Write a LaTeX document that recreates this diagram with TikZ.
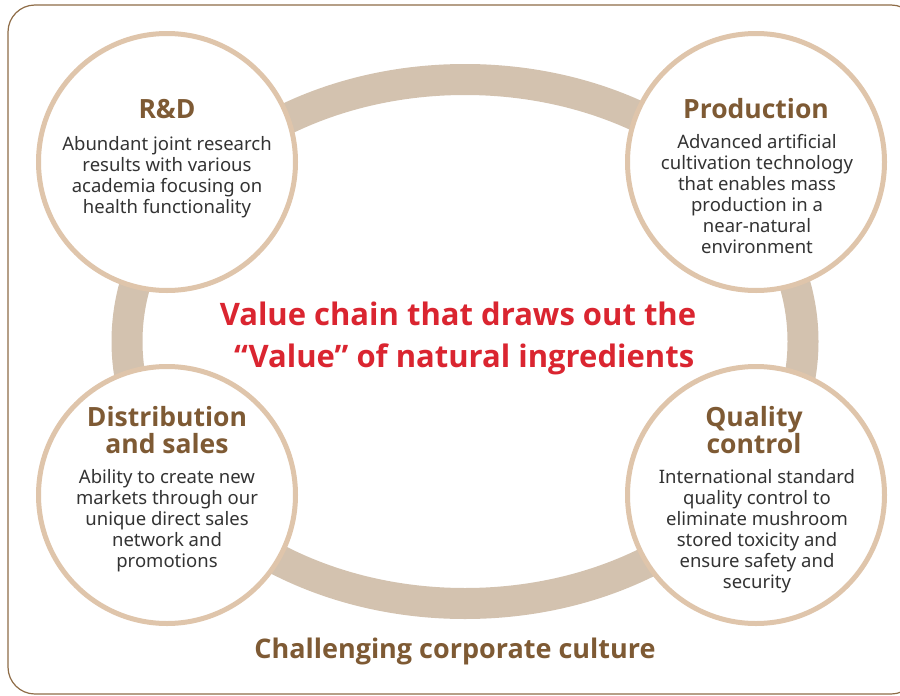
\documentclass[tikz,border=0pt]{standalone}
\usepackage{fontspec}
\setmainfont{Noto Sans}
\newfontfamily\headfont{Open Sans}
\usepackage{tikz}
\usetikzlibrary{positioning}

\definecolor{ringtan}{HTML}{D3C2AF}
\definecolor{rimtan}{HTML}{DFC5AB}
\definecolor{headbrown}{HTML}{7E5A34}
\definecolor{framebrown}{HTML}{8E6C47}
\definecolor{chainred}{HTML}{DA2530}
\definecolor{bodygray}{HTML}{333333}

\begin{document}
\begin{tikzpicture}[
    x=1pt, y=-1pt,
    stage/.style={draw=rimtan, line width=5pt, fill=white, circle, minimum size=257pt, inner sep=0pt},
    head/.style={text=headbrown, font=\headfont\fontsize{26.5}{27}\selectfont\bfseries, align=center, anchor=base, inner sep=0pt},
    body/.style={text=bodygray, font=\fontsize{18.5}{21}\selectfont, align=center, anchor=base, inner sep=0pt},
    ring/.style={draw=ringtan, line width=31pt}
]

    \useasboundingbox (0,0) rectangle (900,696);

    % Outer frame
    \draw[framebrown, line width=1.2pt, rounded corners=27pt] (8,5) rectangle (918,694);

    % Ring joining the four stages
    \draw[ring] (465,341.5) ellipse [x radius=338, y radius=262];

    % Stage circles
    \node[stage] (rd) at (167,162) {};
    \node[stage] (prod) at (756,162) {};
    \node[stage] (dist) at (167,495) {};
    \node[stage] (qc) at (756,495) {};

    % R&D (anchor base = last line)
    \node[head] (rdhead) at (167,118) {R\&D};
    \node[body] (rdtext) at (167,213) {Abundant joint research\\results with various\\academia focusing on\\health functionality};

    % Production
    \node[head] (prodhead) at (756,118) {Production};
    \node[body] (prodtext) at (757,253) {Advanced artificial\\cultivation technology\\that enables mass\\production in a\\near-natural\\environment};

    % Distribution and sales
    \node[head] (disthead) at (167,453) {Distribution\\and sales};
    \node[body] (disttext) at (167,567) {Ability to create new\\markets through our\\unique direct sales\\network and\\promotions};

    % Quality control
    \node[head] (qchead) at (754,453) {Quality\\control};
    \node[body] (qctext) at (757,588) {International standard\\quality control to\\eliminate mushroom\\stored toxicity and\\ensure safety and\\security};

    % Centre message
    \node[text=chainred, font=\headfont\fontsize{31}{42}\selectfont\bfseries, align=center, anchor=base, inner sep=0pt] (chain) at (458,367) {Value chain that draws out the\\\hspace*{0.4em}“Value” of natural ingredients};

    % Caption under the ring
    \node[text=headbrown, font=\headfont\fontsize{27}{28}\selectfont\bfseries, anchor=base, inner sep=0pt] (culture) at (455,658) {Challenging corporate culture};

\end{tikzpicture}
\end{document}
